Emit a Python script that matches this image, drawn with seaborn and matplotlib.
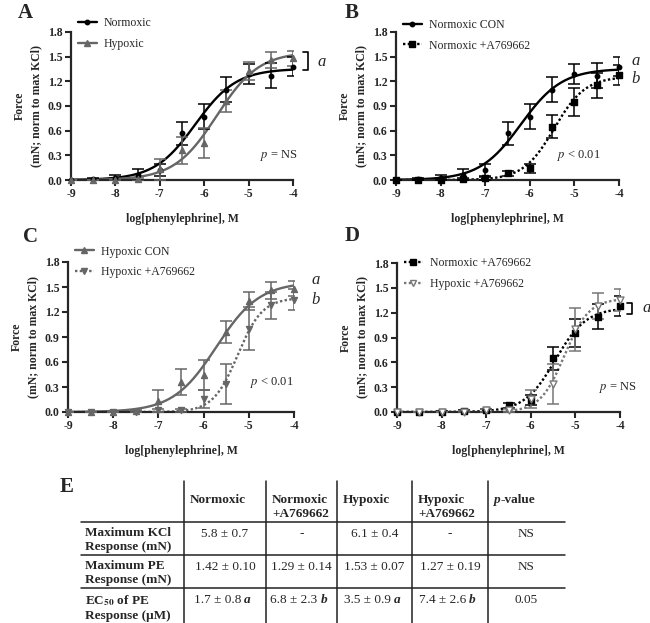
import numpy as np
import matplotlib
matplotlib.use('Agg')
import matplotlib.pyplot as plt
from matplotlib.lines import Line2D
import seaborn as sns

sns.set_style("ticks")
plt.rcParams['font.family'] = ['Liberation Serif', 'DejaVu Serif']
plt.rcParams['mathtext.fontset'] = 'stix'
plt.rcParams['axes.unicode_minus'] = False

# ── Data ───────────────────────────────────────────────────────────────────
log_pe = [-9, -8.5, -8, -7.5, -7, -6.5, -6, -5.5, -5, -4.5, -4]

norm_mean   = [0.00, 0.01, 0.02, 0.06, 0.12, 0.57, 0.77, 1.10, 1.29, 1.27, 1.38]
norm_sem    = [0.00, 0.01, 0.04, 0.07, 0.07, 0.14, 0.15, 0.15, 0.12, 0.15, 0.11]
hyp_mean    = [0.00, 0.00, 0.00, 0.01, 0.13, 0.36, 0.45, 0.96, 1.33, 1.46, 1.48]
hyp_sem     = [0.00, 0.00, 0.01, 0.02, 0.13, 0.16, 0.18, 0.13, 0.11, 0.10, 0.09]
norm_a_mean = [0.00, 0.00, 0.00, 0.01, 0.02, 0.08, 0.14, 0.65, 0.95, 1.15, 1.28]
norm_a_sem  = [0.00, 0.00, 0.01, 0.01, 0.02, 0.03, 0.06, 0.14, 0.17, 0.15, 0.12]
hyp_a_mean  = [0.00, 0.00, 0.00, 0.00, 0.02, 0.02, 0.16, 0.34, 1.00, 1.28, 1.35]
hyp_a_sem   = [0.00, 0.00, 0.00, 0.01, 0.02, 0.02, 0.11, 0.24, 0.26, 0.16, 0.13]

# table E
tab_cols = ["Normoxic", "Normoxic\n+A769662", "Hypoxic", "Hypoxic\n+A769662"]
tab_rows = ["Maximum KCl\nResponse (mN)", "Maximum PE\nResponse (mN)",
            r"EC$_\mathbf{50}$ of PE" + "\nResponse (\u03bcM)"]
kcl_vals  = ["5.8 \u00b1 0.7", "-", "6.1 \u00b1 0.4", "-", "NS"]
pe_vals   = ["1.42 \u00b1 0.10", "1.29 \u00b1 0.14", "1.53 \u00b1 0.07", "1.27 \u00b1 0.19", "NS"]
ec50_vals = ["1.7 \u00b1 0.8", "6.8 \u00b1 2.3", "3.5 \u00b1 0.9", "7.4 \u00b1 2.6", "0.05"]
ec50_sig  = ["a", "b", "a", "b", ""]


# ── 4-parameter logistic fit (bottom = 0), grid search ─────────────────────
def fit_logistic(x, y):
    x = np.asarray(x, float); y = np.asarray(y, float)
    logec = np.arange(-8, -3.5, 0.005)
    hill = np.arange(0.4, 4.0, 0.01)
    E, H = np.meshgrid(logec, hill, indexing='ij')
    f = 1.0 / (1.0 + 10 ** ((E[..., None] - x) * H[..., None]))
    top = (f * y).sum(-1) / (f * f).sum(-1)
    sse = ((top[..., None] * f - y) ** 2).sum(-1)
    i = np.unravel_index(sse.argmin(), sse.shape)
    return top[i], E[i], H[i]


GREY = "#666666"
DOT = (0, (1, 1))
series = {
    "norm":   dict(mean=norm_mean, sem=norm_sem, color="black", marker="o", ms=3.2,
                   ls="-", mfc="black"),
    "hyp":    dict(mean=hyp_mean, sem=hyp_sem, color=GREY, marker="^", ms=4.3,
                   ls="-", mfc=GREY),
    "norm_a": dict(mean=norm_a_mean, sem=norm_a_sem, color="black", marker="s", ms=4.5,
                   ls=DOT, mfc="black"),
    "hyp_a":  dict(mean=hyp_a_mean, sem=hyp_a_sem, color=GREY, marker="v", ms=4.3,
                   ls=DOT, mfc=GREY),
    "hyp_a_open": dict(mean=hyp_a_mean, sem=hyp_a_sem, color="#777777", marker="v", ms=5,
                       ls=DOT, mfc="white"),
}

fig = plt.figure(figsize=(6.5, 6.23), dpi=100)

# background axes in pixel coordinates for table + panel letters
bg = fig.add_axes([0, 0, 1, 1])
bg.set_xlim(0, 650); bg.set_ylim(623, 0); bg.axis('off')


def px_axes(x0, x1, y0, y1):
    return fig.add_axes([x0 / 650, 1 - y1 / 623, (x1 - x0) / 650, (y1 - y0) / 623])


panels = [
    dict(box=(71, 293, 32, 180), keys=["norm", "hyp"], labels=["Normoxic", "Hypoxic"],
         leg=(0.03, 1.10), ptxt=r"$p$ = NS", pxy=(-4.74, 0.30),
         letters=[("a", -3.45, 1.44)], bracket=(-3.78, -3.66, 1.34, 1.56)),
    dict(box=(396, 619, 32, 180), keys=["norm", "norm_a"],
         labels=["Normoxic CON", "Normoxic +A769662"],
         leg=(0.03, 1.09), ptxt=r"$p$ < 0.01", pxy=(-5.39, 0.30),
         letters=[("a", -3.72, 1.45), ("b", -3.72, 1.23)], bracket=None),
    dict(box=(68, 294, 262, 412), keys=["hyp", "hyp_a"],
         labels=["Hypoxic CON", "Hypoxic +A769662"],
         leg=(0.03, 1.11), ptxt=r"$p$ < 0.01", pxy=(-4.97, 0.36),
         letters=[("a", -3.62, 1.58), ("b", -3.62, 1.35)], bracket=None),
    dict(box=(397, 620, 263, 412), keys=["norm_a", "hyp_a_open"],
         labels=["Normoxic +A769662", "Hypoxic +A769662"],
         leg=(0.03, 1.04), ptxt=r"$p$ = NS", pxy=(-4.47, 0.29),
         letters=[("a", -3.5, 1.26)], bracket=(-3.84, -3.73, 1.18, 1.32)),
]
panel_tags = [("A", 25, 13), ("B", 352, 13), ("C", 30, 237), ("D", 352, 236), ("E", 67, 487)]

xs = np.linspace(-9, -4, 300)
for p in panels:
    ax = px_axes(*p["box"])
    handles = []
    for k, lab in zip(p["keys"], p["labels"]):
        s = series[k]
        top, logec, hill = fit_logistic(log_pe, s["mean"])
        ys = top / (1 + 10 ** ((logec - xs) * hill))
        sns.lineplot(x=xs, y=ys, ax=ax, color=s["color"], linewidth=1.7,
                     linestyle=s["ls"], zorder=2)
        ax.errorbar(log_pe, s["mean"], yerr=s["sem"], fmt='none', ecolor=s["color"],
                    elinewidth=1.1, capsize=4.5, capthick=1.1, zorder=3)
        sns.scatterplot(x=log_pe, y=s["mean"], ax=ax, marker=s["marker"],
                        s=s["ms"] ** 2, color=s["mfc"], edgecolor=s["color"],
                        linewidth=1.0, zorder=4, clip_on=False, legend=False)
        handles.append(Line2D([], [], color=s["color"], lw=1.7, ls=s["ls"],
                              marker=s["marker"], ms=s["ms"], mfc=s["mfc"],
                              mec=s["color"], label=lab))
    ax.set_xlim(-9, -4); ax.set_ylim(0, 1.8)
    ax.set_xticks(range(-9, -3))
    ax.set_yticks(np.arange(0, 1.81, 0.3))
    ax.set_yticklabels([f"{v:.1f}" for v in np.arange(0, 1.81, 0.3)])
    sns.despine(ax=ax)
    for sp in ["left", "bottom"]:
        ax.spines[sp].set_linewidth(1.6)
    ax.tick_params(width=1.5, length=4, direction='out', labelsize=8.5, pad=2)
    for t in ax.get_xticklabels() + ax.get_yticklabels():
        t.set_fontweight('bold')
    ax.set_xlabel("log[phenylephrine], M", fontweight='bold', fontsize=8.5, labelpad=9)
    ax.set_ylabel("Force\n(mN; norm to max KCl)", fontweight='bold', fontsize=8.5,
                  linespacing=1.5, labelpad=4)
    ax.legend(handles=handles, loc='upper left', bbox_to_anchor=p["leg"],
              frameon=False, fontsize=8.5, handlelength=1.6, handletextpad=0.6,
              labelspacing=0.75, borderaxespad=0, borderpad=0)
    ax.text(p["pxy"][0], p["pxy"][1], p["ptxt"], fontsize=9, va='center', ha='left')
    for txt, lx, ly in p["letters"]:
        ax.text(lx, ly, txt, fontsize=12, style='italic', va='center', ha='left',
                clip_on=False)
    if p["bracket"]:
        bx0, bx1, by0, by1 = p["bracket"]
        ax.plot([bx0, bx1, bx1, bx0], [by1, by1, by0, by0], color='black', lw=1.2,
                clip_on=False)

for tag, tx, ty in panel_tags:
    bg.text(tx, ty, tag, fontsize=15, fontweight='bold', ha='center', va='center')

# ── Table E ────────────────────────────────────────────────────────────────
col_x = [184, 266, 337, 412, 488]
col_c = [(a + b) / 2 for a, b in zip(col_x, col_x[1:] + [565])]
row_lines = [522, 555, 588]
for cx in col_x:
    bg.plot([cx, cx], [481, 623], color='#222222', lw=1.1)
for ry in row_lines:
    bg.plot([81, 565], [ry, ry], color='#222222', lw=1.1)

TFS = 9.5
for cx, name in zip(col_x, tab_cols):
    bg.text(cx + 6, 494, name, fontsize=TFS, fontweight='bold', ha='left', va='top',
            linespacing=1.2)
bg.text(col_x[-1] + 6, 494, "p", fontsize=TFS, fontweight='bold', style='italic',
        ha='left', va='top')
bg.text(col_x[-1] + 12.5, 494, "-value", fontsize=TFS, fontweight='bold',
        ha='left', va='top')

row_y = [527, 560, 593]
for ry, name in zip(row_y, tab_rows):
    bg.text(85, ry, name, fontsize=TFS, fontweight='bold', ha='left', va='top',
            linespacing=1.25)

for ry, vals in zip(row_y[:2], [kcl_vals, pe_vals]):
    for cx, v in zip(col_c, vals):
        bg.text(cx, ry + 7, v, fontsize=TFS, ha='center', va='center')
for cx, v, sig in zip(col_c, ec50_vals, ec50_sig):
    if sig:
        bg.text(cx + 16, row_y[2] + 7, v, fontsize=TFS, ha='right', va='center')
        bg.text(cx + 19, row_y[2] + 7, sig, fontsize=TFS, fontweight='bold',
                style='italic', ha='left', va='center')
    else:
        bg.text(cx, row_y[2] + 7, v, fontsize=TFS, ha='center', va='center')

plt.savefig("out.png", dpi=100)
plt.close()
